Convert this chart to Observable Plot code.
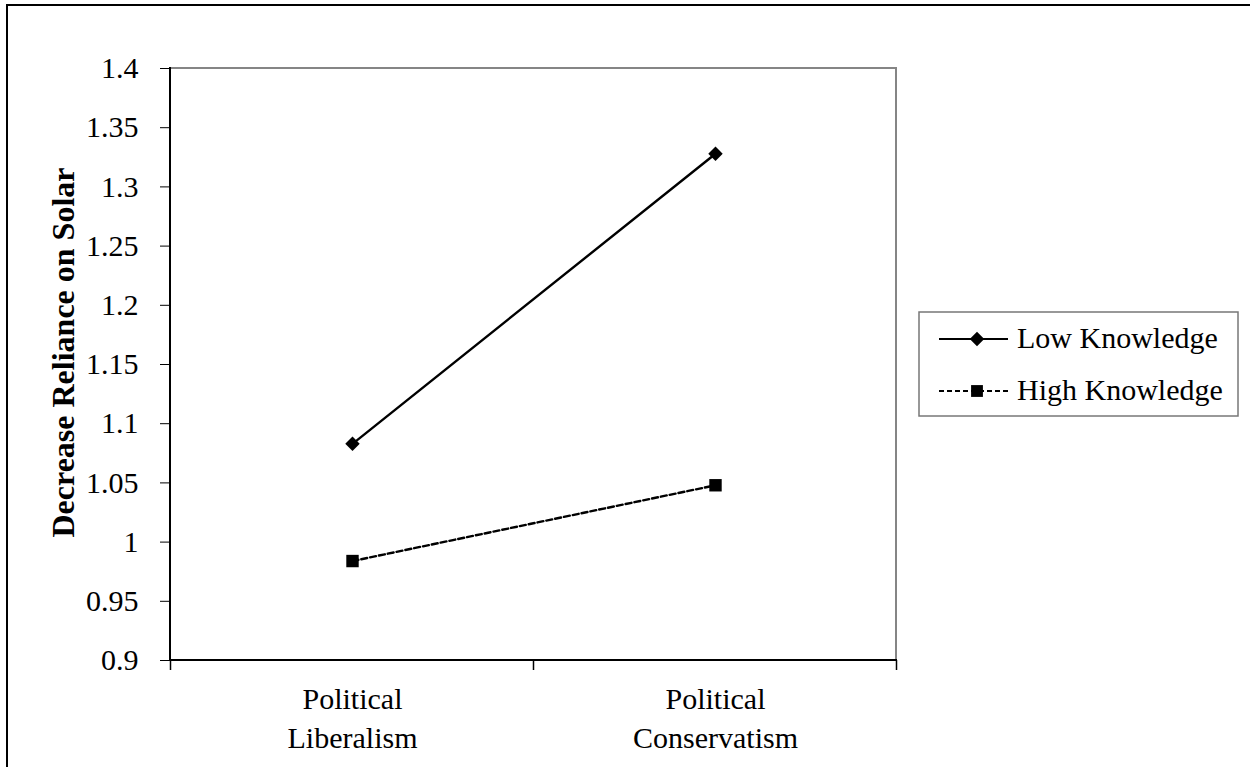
<!DOCTYPE html>
<html>
<head>
<meta charset="utf-8">
<script src="https://cdn.jsdelivr.net/npm/d3@7"></script>
<script src="https://cdn.jsdelivr.net/npm/@observablehq/plot@0.6"></script>
<style>
  html, body { margin: 0; padding: 0; background: white; }
  svg { display: block; }
</style>
</head>
<body>
<div id="chart"></div>
<script>
// ---- data ----
const categories = ["Political Liberalism", "Political Conservatism"];
const categoryLabels = ["Political\nLiberalism", "Political\nConservatism"];
const seriesNames = ["Low Knowledge", "High Knowledge"];
const lowKnowledge = [1.083, 1.328];
const highKnowledge = [0.984, 1.048];
const yTicks = [0.9, 0.95, 1, 1.05, 1.1, 1.15, 1.2, 1.25, 1.3, 1.35, 1.4];
const yLabel = "Decrease Reliance on Solar";

const rows = [];
categories.forEach((c, i) => {
  rows.push({cat: c, series: seriesNames[0], value: lowKnowledge[i]});
  rows.push({cat: c, series: seriesNames[1], value: highKnowledge[i]});
});
const lowRows = rows.filter(d => d.series === seriesNames[0]);
const highRows = rows.filter(d => d.series === seriesNames[1]);

const FONT = "'Liberation Serif', 'Times New Roman', serif";

// decorations: outer border, plot frame, axis lines, category ticks, legend
function decor(index, scales, values, dims) {
  const g = d3.create("svg:g");
  const L = dims.marginLeft, T = dims.marginTop;
  const R = dims.width - dims.marginRight, B = dims.height - dims.marginBottom;
  // outer chart border (left and top visible)
  g.append("path").attr("d", `M7,${dims.height} V5 H${dims.width}`)
    .attr("fill", "none").attr("stroke", "black").attr("stroke-width", 2);
  // gray plot frame top/right
  g.append("path").attr("d", `M${L},${T} H${R} V${B}`)
    .attr("fill", "none").attr("stroke", "#858585").attr("stroke-width", 2);
  // axis lines
  g.append("path").attr("d", `M${L},${T - 1} V${B} H${R + 1}`)
    .attr("fill", "none").attr("stroke", "black").attr("stroke-width", 2);
  // category boundary ticks
  const xs = categories.map(c => scales.x(c));
  const step = xs[1] - xs[0];
  const edges = [xs[0] - step / 2, ...xs.map(x => x + step / 2)];
  edges.forEach(e => g.append("line").attr("x1", e).attr("x2", e)
    .attr("y1", B).attr("y2", B + 10).attr("stroke", "black").attr("stroke-width", 1.5));
  // legend
  const lg = g.append("g").attr("font-family", FONT).attr("font-size", 30);
  lg.append("rect").attr("x", 919).attr("y", 312).attr("width", 319).attr("height", 104)
    .attr("fill", "white").attr("stroke", "#777").attr("stroke-width", 1.5);
  const rowsY = [339, 391];
  seriesNames.forEach((name, i) => {
    const y = rowsY[i];
    lg.append("line").attr("x1", 939).attr("x2", 1008).attr("y1", y).attr("y2", y)
      .attr("stroke", "black").attr("stroke-width", 2.2)
      .attr("stroke-dasharray", i === 0 ? null : "5,3");
    const sym = i === 0 ? d3.symbolDiamond2 : d3.symbolSquare;
    const size = i === 0 ? 135 : 140;
    lg.append("path").attr("d", d3.symbol(sym, size)())
      .attr("transform", `translate(977,${y})`).attr("fill", "black");
    lg.append("text").attr("x", 1017).attr("y", y + 9).attr("fill", "black")
      .attr("text-anchor", "start").text(name);
  });
  return g.node();
}

const chart = Plot.plot({
  width: 1250,
  height: 767,
  marginLeft: 170,
  marginRight: 354,
  marginTop: 68,
  marginBottom: 107,
  style: {fontFamily: FONT, fontSize: "30px", color: "black", background: "white", overflow: "visible"},
  x: {type: "point", domain: categories, padding: 0.5, axis: null},
  y: {
    domain: [0.9, 1.4],
    ticks: yTicks,
    tickSize: 10,
    tickPadding: 22,
    tickFormat: d => String(+d.toFixed(2)),
    label: null
  },
  marks: [
    decor,
    Plot.line(lowRows, {x: "cat", y: "value", stroke: "black", strokeWidth: 2.4}),
    Plot.line(highRows, {x: "cat", y: "value", stroke: "black", strokeWidth: 2.4, strokeDasharray: "6,3"}),
    Plot.dot(lowRows, {x: "cat", y: "value", symbol: "diamond2", r: 6.5, fill: "black", stroke: "none"}),
    Plot.dot(highRows, {x: "cat", y: "value", symbol: "square", r: 7, fill: "black", stroke: "none"}),
    Plot.text(categories, {
      x: d => d, y: () => 0.9,
      text: (d, i) => categoryLabels[i],
      lineAnchor: "top", dy: 21, lineHeight: 1.3,
      fontSize: 30, fill: "black"
    }),
    Plot.text([yLabel], {
      frameAnchor: "left", textAnchor: "middle", text: d => d, rotate: -90,
      dx: -107, dy: -12, fontSize: 32, fontWeight: "bold", fill: "black"
    })
  ]
});
document.getElementById("chart").appendChild(chart);
</script>
</body>
</html>
